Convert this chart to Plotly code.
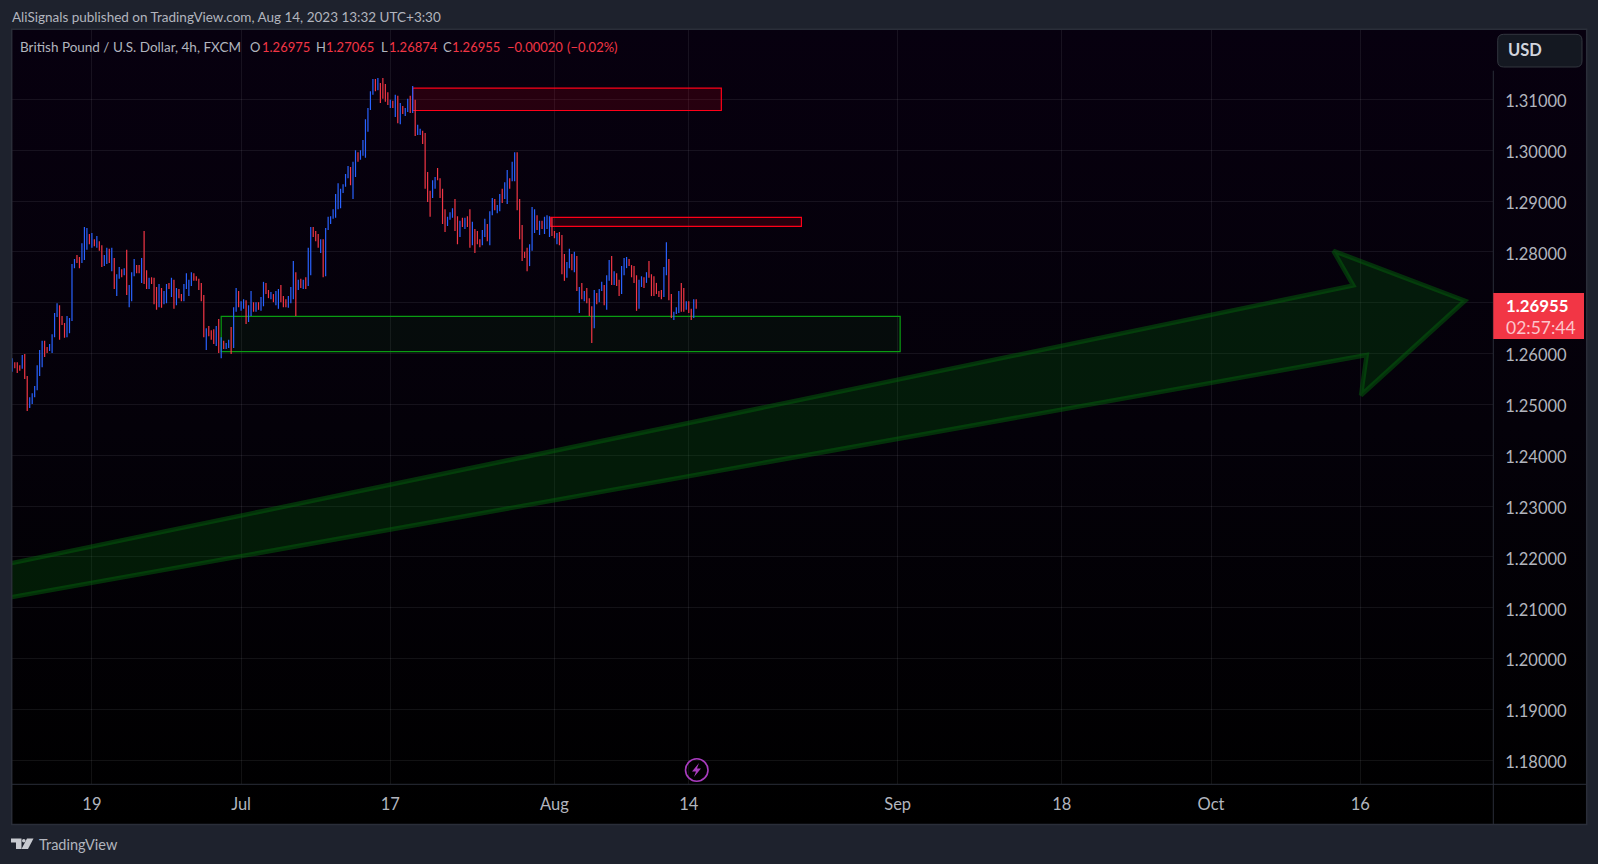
import base64

import plotly.graph_objects as go

# GBPUSD 4h bars, left to right
highs = [
    1.2591, 1.2583, 1.2583, 1.2577, 1.2597, 1.2599, 1.2556, 1.2514, 1.2522, 1.2536,
    1.2577, 1.2607, 1.2625, 1.2625, 1.2613, 1.2619, 1.2638, 1.2680, 1.2699, 1.2695,
    1.2674, 1.2660, 1.2674, 1.2670, 1.2776, 1.2786, 1.2794, 1.2790, 1.2817, 1.2849,
    1.2847, 1.2835, 1.2837, 1.2825, 1.2831, 1.2821, 1.2813, 1.2794, 1.2808, 1.2806,
    1.2808, 1.2788, 1.2756, 1.2770, 1.2766, 1.2768, 1.2804, 1.2735, 1.2760, 1.2786,
    1.2774, 1.2774, 1.2788, 1.2841, 1.2764, 1.2749, 1.2750, 1.2749, 1.2731, 1.2737,
    1.2729, 1.2723, 1.2737, 1.2739, 1.2749, 1.2745, 1.2729, 1.2727, 1.2717, 1.2737,
    1.2758, 1.2745, 1.2760, 1.2758, 1.2752, 1.2747, 1.2739, 1.2715, 1.2650, 1.2654,
    1.2646, 1.2648, 1.2654, 1.2668, 1.2632, 1.2625, 1.2621, 1.2627, 1.2652, 1.2691,
    1.2729, 1.2723, 1.2703, 1.2707, 1.2705, 1.2695, 1.2723, 1.2701, 1.2701, 1.2701,
    1.2711, 1.2741, 1.2739, 1.2725, 1.2721, 1.2717, 1.2723, 1.2727, 1.2735, 1.2713,
    1.2707, 1.2713, 1.2731, 1.2782, 1.2760, 1.2745, 1.2747, 1.2745, 1.2750, 1.2808,
    1.2849, 1.2849, 1.2841, 1.2835, 1.2825, 1.2825, 1.2847, 1.2869, 1.2870, 1.2884,
    1.2914, 1.2935, 1.2924, 1.2933, 1.2953, 1.2969, 1.2967, 1.2977, 1.3000, 1.2996,
    1.3000, 1.3020, 1.3061, 1.3083, 1.3116, 1.3140, 1.3140, 1.3142, 1.3132, 1.3142,
    1.3130, 1.3114, 1.3099, 1.3097, 1.3109, 1.3107, 1.3093, 1.3087, 1.3083, 1.3101,
    1.3107, 1.3126, 1.3099, 1.3050, 1.3042, 1.3038, 1.3034, 1.2957, 1.2920, 1.2941,
    1.2947, 1.2965, 1.2945, 1.2924, 1.2884, 1.2869, 1.2878, 1.2886, 1.2904, 1.2870,
    1.2861, 1.2867, 1.2867, 1.2870, 1.2884, 1.2859, 1.2845, 1.2841, 1.2825, 1.2843,
    1.2865, 1.2855, 1.2880, 1.2906, 1.2904, 1.2892, 1.2914, 1.2924, 1.2937, 1.2961,
    1.2945, 1.2977, 1.2996, 1.2996, 1.2904, 1.2853, 1.2800, 1.2808, 1.2815, 1.2888,
    1.2884, 1.2872, 1.2861, 1.2861, 1.2869, 1.2872, 1.2870, 1.2867, 1.2841, 1.2837,
    1.2839, 1.2833, 1.2796, 1.2780, 1.2806, 1.2796, 1.2800, 1.2792, 1.2731, 1.2739,
    1.2723, 1.2729, 1.2709, 1.2693, 1.2725, 1.2719, 1.2727, 1.2741, 1.2735, 1.2754,
    1.2784, 1.2792, 1.2762, 1.2758, 1.2745, 1.2772, 1.2788, 1.2790, 1.2786, 1.2774,
    1.2772, 1.2754, 1.2745, 1.2752, 1.2750, 1.2760, 1.2782, 1.2756, 1.2752, 1.2739,
    1.2723, 1.2725, 1.2770, 1.2819, 1.2786, 1.2717, 1.2682, 1.2691, 1.2723, 1.2739,
    1.2729, 1.2703, 1.2703, 1.2688, 1.2707, 1.2707,
]
lows = [
    1.2564, 1.2571, 1.2562, 1.2566, 1.2570, 1.2550, 1.2487, 1.2493, 1.2501, 1.2514,
    1.2528, 1.2556, 1.2573, 1.2593, 1.2601, 1.2605, 1.2601, 1.2632, 1.2672, 1.2627,
    1.2656, 1.2631, 1.2632, 1.2640, 1.2664, 1.2768, 1.2778, 1.2768, 1.2778, 1.2784,
    1.2804, 1.2815, 1.2808, 1.2811, 1.2808, 1.2802, 1.2770, 1.2772, 1.2776, 1.2778,
    1.2762, 1.2727, 1.2713, 1.2747, 1.2750, 1.2754, 1.2715, 1.2691, 1.2703, 1.2752,
    1.2758, 1.2758, 1.2739, 1.2737, 1.2727, 1.2727, 1.2737, 1.2697, 1.2686, 1.2691,
    1.2690, 1.2697, 1.2699, 1.2727, 1.2711, 1.2688, 1.2695, 1.2709, 1.2703, 1.2703,
    1.2727, 1.2713, 1.2733, 1.2743, 1.2743, 1.2725, 1.2703, 1.2632, 1.2607, 1.2634,
    1.2627, 1.2619, 1.2615, 1.2601, 1.2591, 1.2609, 1.2609, 1.2611, 1.2599, 1.2611,
    1.2682, 1.2691, 1.2684, 1.2688, 1.2658, 1.2662, 1.2674, 1.2682, 1.2682, 1.2686,
    1.2684, 1.2693, 1.2717, 1.2709, 1.2707, 1.2701, 1.2695, 1.2688, 1.2701, 1.2691,
    1.2691, 1.2690, 1.2699, 1.2707, 1.2674, 1.2725, 1.2729, 1.2727, 1.2727, 1.2733,
    1.2754, 1.2829, 1.2821, 1.2808, 1.2798, 1.2750, 1.2752, 1.2843, 1.2855, 1.2865,
    1.2867, 1.2884, 1.2886, 1.2916, 1.2928, 1.2945, 1.2931, 1.2904, 1.2947, 1.2977,
    1.2981, 1.2989, 1.2985, 1.3036, 1.3079, 1.3109, 1.3116, 1.3118, 1.3093, 1.3101,
    1.3095, 1.3089, 1.3083, 1.3083, 1.3065, 1.3053, 1.3051, 1.3071, 1.3067, 1.3075,
    1.3073, 1.3073, 1.3028, 1.3030, 1.3030, 1.3012, 1.2924, 1.2898, 1.2869, 1.2906,
    1.2924, 1.2941, 1.2906, 1.2855, 1.2839, 1.2851, 1.2863, 1.2867, 1.2841, 1.2815,
    1.2829, 1.2849, 1.2845, 1.2849, 1.2808, 1.2813, 1.2798, 1.2815, 1.2809, 1.2813,
    1.2829, 1.2821, 1.2813, 1.2872, 1.2882, 1.2876, 1.2880, 1.2896, 1.2904, 1.2894,
    1.2924, 1.2939, 1.2939, 1.2882, 1.2825, 1.2782, 1.2788, 1.2762, 1.2772, 1.2802,
    1.2837, 1.2843, 1.2833, 1.2845, 1.2835, 1.2845, 1.2829, 1.2831, 1.2827, 1.2815,
    1.2813, 1.2756, 1.2743, 1.2749, 1.2768, 1.2764, 1.2760, 1.2723, 1.2680, 1.2707,
    1.2703, 1.2699, 1.2674, 1.2621, 1.2650, 1.2697, 1.2701, 1.2723, 1.2695, 1.2686,
    1.2743, 1.2735, 1.2735, 1.2733, 1.2713, 1.2717, 1.2754, 1.2768, 1.2772, 1.2750,
    1.2739, 1.2684, 1.2688, 1.2731, 1.2729, 1.2739, 1.2749, 1.2713, 1.2713, 1.2717,
    1.2711, 1.2707, 1.2711, 1.2754, 1.2705, 1.2670, 1.2666, 1.2678, 1.2680, 1.2682,
    1.2682, 1.2686, 1.2680, 1.2666, 1.2670, 1.2688,
]
# 1 = rising bar (blue), 0 = falling bar (red)
rising = [
    1, 0, 0, 0, 1, 0, 0, 1, 1, 1,
    1, 1, 1, 0, 0, 1, 1, 1, 1, 0,
    0, 0, 1, 1, 1, 1, 0, 0, 1, 1,
    1, 0, 1, 0, 1, 0, 0, 1, 1, 0,
    1, 0, 1, 1, 0, 1, 0, 1, 1, 1,
    0, 0, 1, 0, 0, 1, 0, 0, 0, 1,
    0, 1, 1, 0, 1, 0, 1, 0, 0, 1,
    1, 1, 1, 0, 0, 0, 0, 0, 1, 0,
    0, 0, 1, 0, 1, 0, 1, 1, 0, 1,
    1, 0, 1, 1, 0, 1, 1, 0, 1, 0,
    1, 1, 0, 0, 1, 0, 1, 1, 0, 0,
    0, 1, 1, 1, 0, 1, 0, 1, 0, 1,
    1, 0, 0, 0, 1, 0, 1, 1, 1, 1,
    1, 1, 1, 1, 1, 1, 0, 1, 1, 0,
    1, 1, 1, 1, 1, 1, 0, 1, 0, 0,
    0, 0, 1, 0, 1, 0, 1, 0, 1, 1,
    0, 1, 0, 1, 1, 0, 0, 0, 0, 1,
    1, 0, 0, 0, 0, 1, 1, 1, 0, 0,
    1, 0, 1, 0, 0, 1, 0, 0, 0, 1,
    1, 0, 1, 1, 0, 1, 1, 0, 1, 1,
    0, 1, 1, 0, 0, 0, 0, 0, 1, 1,
    1, 0, 1, 0, 1, 1, 1, 0, 0, 1,
    0, 0, 0, 1, 1, 0, 1, 0, 1, 0,
    1, 0, 0, 0, 1, 0, 1, 1, 0, 1,
    1, 0, 1, 0, 0, 1, 1, 1, 0, 0,
    0, 0, 1, 1, 0, 1, 0, 0, 0, 0,
    0, 0, 1, 1, 0, 0, 1, 1, 1, 0,
    0, 1, 0, 0, 1, 0,
]

price_ticks = [1.18, 1.19, 1.20, 1.21, 1.22, 1.23, 1.24, 1.25, 1.26, 1.27, 1.28, 1.29, 1.30, 1.31]
# 1.27 keeps its grid line, the last price box takes the place of its label
price_labels = ["1.18000", "1.19000", "1.20000", "1.21000", "1.22000", "1.23000", "1.24000",
                "1.25000", "1.26000", "", "1.28000", "1.29000", "1.30000", "1.31000"]
time_ticks = [32, 92, 152, 218, 272, 356, 422, 482, 542]
time_labels = ["19", "Jul", "17", "Aug", "14", "Sep", "18", "Oct", "16"]

# drawings on the chart (bar number, price)
red_zone_1 = [161, 285.1, 1.3078, 1.3122]
red_zone_2 = [216.5, 317.3, 1.2850, 1.2868]
green_zone = [84, 357, 1.2604, 1.2673]
arrow_x = [-8.2, 539.2, 531.2, 584.1, 542.3, 544.6, -8.2]
arrow_y = [1.2180, 1.2734, 1.2802, 1.2704, 1.2518, 1.2597, 1.2114]

W, H = 1598, 864
FONT = "Lato"
TEXT = "#b2b5be"
BORDER = "#2a2e39"
PANEL_L, PANEL_R, PANEL_T, PANEL_B = 11.7, 1586.7, 29.3, 824.6
AXIS_X, AXIS_Y = 1493.3, 784.3


def px(x):
    return x / W


def py(y):
    return 1 - y / H


def path(points, close=True):
    d = "M" + " L".join(f"{px(x):.5f},{py(y):.5f}" for x, y in points)
    return d + (" Z" if close else "")


def label(x, y, text, color=TEXT, size=13.5, anchor="left", weight=None):
    fig.add_annotation(
        x=px(x), y=py(y), xref="paper", yref="paper", text=text, showarrow=False,
        xanchor=anchor, yanchor="middle", borderpad=0,
        font=dict(family=FONT, size=size, color=color, weight=weight),
    )


fig = go.Figure()

fig.add_trace(go.Scatter(
    x=arrow_x, y=arrow_y, mode="lines", fill="toself",
    fillcolor="rgba(4,100,10,0.27)",
    line=dict(color="rgba(5,100,12,0.48)", width=4.5),
    hoverinfo="skip",
))

fig.add_trace(go.Ohlc(
    x=list(range(len(highs))),
    open=[l if r else h for h, l, r in zip(highs, lows, rising)],
    high=highs,
    low=lows,
    close=[h if r else l for h, l, r in zip(highs, lows, rising)],
    increasing_line_color="#2962ff",
    decreasing_line_color="#f23645",
    line_width=1.2,
    tickwidth=0,
    hoverinfo="skip",
))

for zone, line_col, fill_col in [
    (red_zone_1, "#ff0018", "rgba(255,0,25,0.13)"),
    (red_zone_2, "#ff0018", "rgba(255,0,25,0.13)"),
    (green_zone, "#0a9c12", "rgba(20,156,30,0.08)"),
]:
    fig.add_shape(type="rect", x0=zone[0], x1=zone[1], y0=zone[2], y1=zone[3],
                  line=dict(color=line_col, width=1.2), fillcolor=fill_col, layer="between")

# panel background runs from dark indigo at the top down to black
svg = (
    '<svg xmlns="http://www.w3.org/2000/svg" width="100" height="100" preserveAspectRatio="none">'
    '<defs><linearGradient id="g" x1="0" y1="0" x2="0" y2="1">'
    '<stop offset="0" stop-color="#07000f"/><stop offset="0.5" stop-color="#040109"/>'
    '<stop offset="1" stop-color="#000000"/></linearGradient></defs>'
    '<rect width="100" height="100" fill="url(#g)"/></svg>'
)
fig.add_layout_image(
    source="data:image/svg+xml;base64," + base64.b64encode(svg.encode()).decode(),
    xref="paper", yref="paper", x=px(PANEL_L), y=py(PANEL_T),
    sizex=px(PANEL_R) - px(PANEL_L), sizey=py(PANEL_T) - py(PANEL_B),
    xanchor="left", yanchor="top", sizing="stretch", layer="below",
)

# frame and axis lines
fig.add_shape(type="rect", xref="paper", yref="paper", x0=px(PANEL_L), x1=px(PANEL_R),
              y0=py(PANEL_B), y1=py(PANEL_T), line=dict(color=BORDER, width=1.5), layer="above")
fig.add_shape(type="line", xref="paper", yref="paper", x0=px(AXIS_X), x1=px(AXIS_X),
              y0=py(70.7), y1=py(PANEL_B), line=dict(color=BORDER, width=1), layer="above")
fig.add_shape(type="line", xref="paper", yref="paper", x0=px(PANEL_L), x1=px(PANEL_R),
              y0=py(AXIS_Y), y1=py(AXIS_Y), line=dict(color=BORDER, width=1), layer="above")

# last price box
fig.add_shape(type="rect", xref="paper", yref="paper", x0=px(AXIS_X), x1=px(1584),
              y0=py(339), y1=py(293), line_width=0, fillcolor="#f23645", layer="above")
label(1505, 305, "1.26955", color="#ffffff", size=16.8, weight="bold")
label(1505, 327, "02:57:44", color="#fcc5cb", size=17.5)

# USD button
x0, x1, y0, y1, r = 1497.7, 1582, 34.3, 67, 6
usd = (
    f"M{px(x0 + r):.5f},{py(y0):.5f} L{px(x1 - r):.5f},{py(y0):.5f} "
    f"Q{px(x1):.5f},{py(y0):.5f} {px(x1):.5f},{py(y0 + r):.5f} L{px(x1):.5f},{py(y1 - r):.5f} "
    f"Q{px(x1):.5f},{py(y1):.5f} {px(x1 - r):.5f},{py(y1):.5f} L{px(x0 + r):.5f},{py(y1):.5f} "
    f"Q{px(x0):.5f},{py(y1):.5f} {px(x0):.5f},{py(y1 - r):.5f} L{px(x0):.5f},{py(y0 + r):.5f} "
    f"Q{px(x0):.5f},{py(y0):.5f} {px(x0 + r):.5f},{py(y0):.5f} Z"
)
fig.add_shape(type="path", xref="paper", yref="paper", path=usd, fillcolor="#141821",
              line=dict(color="#32363f", width=1), layer="above")
label(1507, 50, "USD", color="#d1d4dc", size=16.5, weight="bold")

# header and legend strip
label(10.5, 17, "AliSignals published on TradingView.com, Aug 14, 2023 13:32 UTC+3:30", size=13.5)
label(19.2, 47, "British Pound / U.S. Dollar, 4h, FXCM", size=13.5)
for x, text, col in [
    (249.5, "O", TEXT), (260.5, "1.26975", "#f23645"),
    (315, "H", TEXT), (325, "1.27065", "#f23645"),
    (379.5, "L", TEXT), (388, "1.26874", "#f23645"),
    (442, "C", TEXT), (451, "1.26955", "#f23645"),
    (506, "−0.00020", "#f23645"), (565.5, "(−0.02%)", "#f23645"),
]:
    label(x, 47, text, color=col, size=13)

# lightning badge
fig.add_shape(type="circle", xref="paper", yref="paper", x0=px(685.5), x1=px(708),
              y0=py(781.2), y1=py(758.8), line=dict(color="#a93cbf", width=1.6),
              fillcolor="rgba(0,0,0,0)", layer="above")
fig.add_shape(type="path", xref="paper", yref="paper", line_width=0, fillcolor="#a93cbf", layer="above",
              path=path([(699, 763), (692, 771.5), (696, 771.5), (694, 777), (701, 768.5), (697, 768.5)]))

# TradingView mark and name
fig.add_shape(type="path", xref="paper", yref="paper", line_width=0, fillcolor="#c8cad0", layer="above",
              path=path([(11, 838.5), (21.5, 838.5), (21.5, 849), (16, 849), (16, 842.5), (11, 842.5)]))
fig.add_shape(type="circle", xref="paper", yref="paper", x0=px(22), x1=px(25.6),
              y0=py(842.5), y1=py(838.9), line_width=0, fillcolor="#c8cad0", layer="above")
fig.add_shape(type="path", xref="paper", yref="paper", line_width=0, fillcolor="#c8cad0", layer="above",
              path=path([(27, 838.5), (33.5, 838.5), (28, 849), (21.5, 849)]))
label(38, 844, "TradingView", size=14.5)

grid = "rgba(240,243,250,0.075)"
fig.update_layout(
    width=W, height=H,
    margin=dict(l=0, r=0, t=0, b=0),
    paper_bgcolor="#1e222d",
    plot_bgcolor="rgba(0,0,0,0)",
    showlegend=False,
    hovermode=False,
    xaxis=dict(
        domain=[px(PANEL_L), px(AXIS_X)],
        type="linear",
        range=[-0.24, 595.5],
        rangeslider=dict(visible=False),
        tickmode="array", tickvals=time_ticks, ticktext=time_labels,
        tickfont=dict(family=FONT, size=16.5, color=TEXT),
        ticks="", ticklabelstandoff=8,
        showgrid=True, gridcolor=grid, gridwidth=1,
        zeroline=False, showline=False,
    ),
    yaxis=dict(
        domain=[py(AXIS_Y), py(PANEL_T)],
        side="right",
        range=[1.17529, 1.32377],
        tickmode="array", tickvals=price_ticks, ticktext=price_labels,
        tickfont=dict(family=FONT, size=16.5, color=TEXT),
        ticks="", ticklabelstandoff=11, ticklabelshift=2,
        showgrid=True, gridcolor=grid, gridwidth=1,
        zeroline=False, showline=False,
    ),
)

fig.write_html(
    "out.html",
    config={"displayModeBar": False},
    post_script="document.body.style.margin='0';document.body.style.overflow='hidden';",
)
